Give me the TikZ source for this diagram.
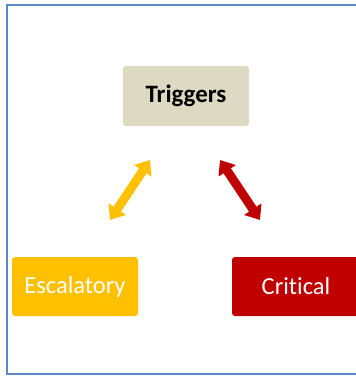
\documentclass[tikz,border=0pt]{standalone}
\usepackage{fontspec}
\setmainfont{Carlito}[Ligatures=NoCommon]
\usetikzlibrary{arrows.meta}
\definecolor{framec}{HTML}{5B88C6}
\definecolor{trigc}{HTML}{DDD9C3}
\definecolor{escc}{HTML}{FFC000}
\definecolor{critc}{HTML}{C00000}
\tikzset{
  box/.style={rounded corners=3pt, inner sep=0pt},
  lbl/.style={font=\fontsize{24.5}{28}\selectfont},
  blbl/.style={font=\fontsize{25}{28}\selectfont\bfseries},
  dblarrow/.style={line width=9pt, {Triangle[width=20pt,length=13pt]}-{Triangle[width=20pt,length=13pt]}}
}
\begin{document}
\begin{tikzpicture}[x=1pt,y=-1pt]
\useasboundingbox (0,0) rectangle (356,376);
\begin{scope}
\clip (0,0) rectangle (356,376);
\draw[framec, line width=2.4pt] (362,5) -- (7,5) -- (7,374) -- (362,374);
\end{scope}
\node[box, fill=trigc, minimum width=126pt, minimum height=60pt, blbl] (trig) at (186,96) {Triggers};
\node[box, fill=escc, text=white, minimum width=126pt, minimum height=59pt, lbl] (esc) at (75,286.5) {Escalatory};
\node[box, fill=critc, text=white, minimum width=128pt, minimum height=59pt, lbl] (crit) at (296,286.5) {Critical};
\coordinate (ya) at (150,160);
\coordinate (yb) at (110,220);
\coordinate (ra) at (220,160);
\coordinate (rb) at (260,220);
\draw[dblarrow, escc] (yb) -- (ya);
\draw[dblarrow, critc] (ra) -- (rb);
\end{tikzpicture}
\end{document}
